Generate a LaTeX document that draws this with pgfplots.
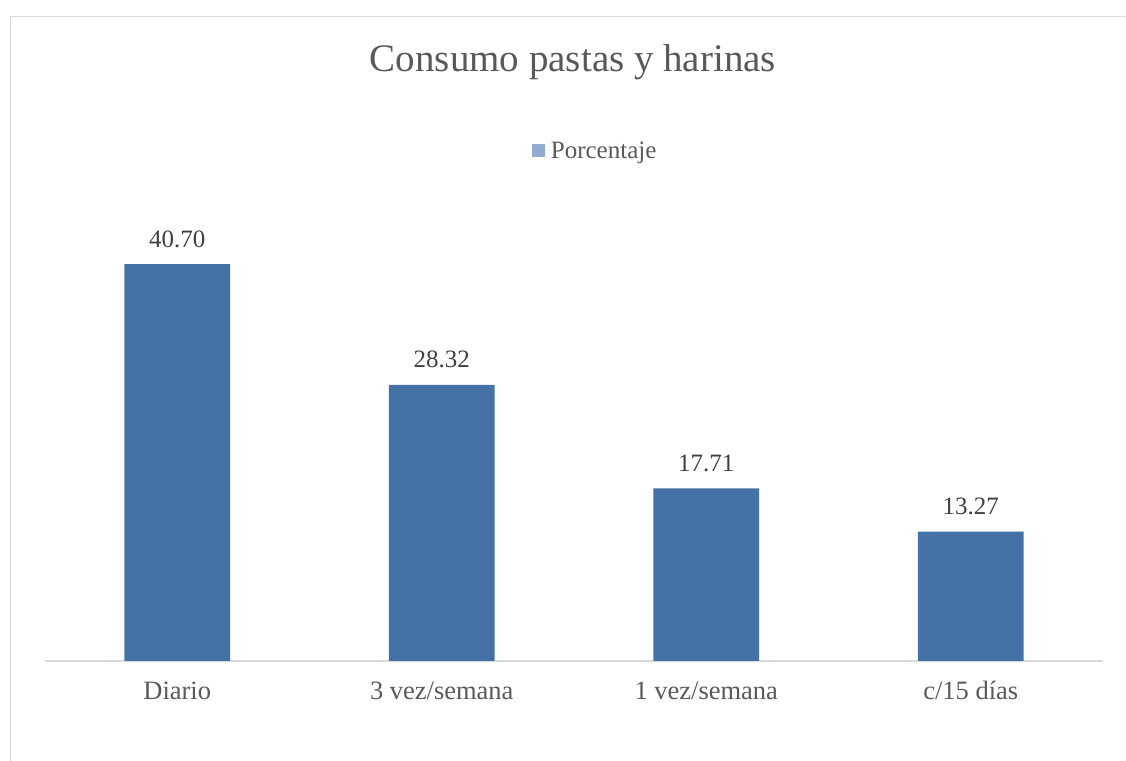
\documentclass[border=0pt]{standalone}
\usepackage{pgfplots}
\pgfplotsset{compat=1.18}
\usepackage{fontspec}
\setmainfont{Liberation Serif}
\definecolor{barblue}{HTML}{4472A7}
\definecolor{legblue}{HTML}{95AAD2}
\definecolor{txtgray}{HTML}{595959}
\definecolor{valgray}{HTML}{404040}
\definecolor{linegray}{HTML}{D9D9D9}
\begin{document}
\begin{tikzpicture}
\useasboundingbox (0pt,0pt) rectangle (1126pt,760pt);
\draw[linegray, line width=1.6pt] (10.5pt,-5pt) -- (10.5pt,743.5pt) -- (1140pt,743.5pt);
\node[txtgray, font=\fontsize{39}{44}\selectfont, anchor=base] at (573pt,688pt) {Consumo pastas y harinas};
\begin{axis}[
  at={(45pt,99pt)}, anchor=south west,
  scale only axis, width=1058pt, height=438.9pt,
  ymin=0, ymax=45, xmin=-0.5, xmax=3.5,
  axis x line*=bottom, axis y line=none,
  x axis line style={linegray, line width=1.5pt},
  xtick=data, xticklabels={Diario,3 vez/semana,1 vez/semana,c/15 días},
  major tick length=0pt,
  xticklabel style={txtgray, font=\fontsize{26.5}{30}\selectfont, anchor=base, yshift=-38pt},
  ybar, bar width=0.4,
  /pgf/number format/assume math mode=true,
  nodes near coords,
  nodes near coords style={valgray, font=\fontsize{25}{28}\selectfont, anchor=base, inner sep=0pt, yshift=17pt,
    /pgf/number format/.cd, fixed, fixed zerofill, precision=2},
  legend style={draw=none, fill=none, at={(0.52,1.162)}, anchor=center,
    font=\fontsize{25}{28}\selectfont, text=txtgray, inner sep=0pt},
  legend image code/.code={\fill[legblue] (0pt,-6.5pt) rectangle (13pt,6.5pt); \path (0pt,0pt) -- (17pt,0pt);},
]
\addplot[fill=barblue, draw=none] coordinates {(0,40.70) (1,28.32) (2,17.71) (3,13.27)};
\addlegendentry{Porcentaje}
\end{axis}
\end{tikzpicture}
\end{document}
